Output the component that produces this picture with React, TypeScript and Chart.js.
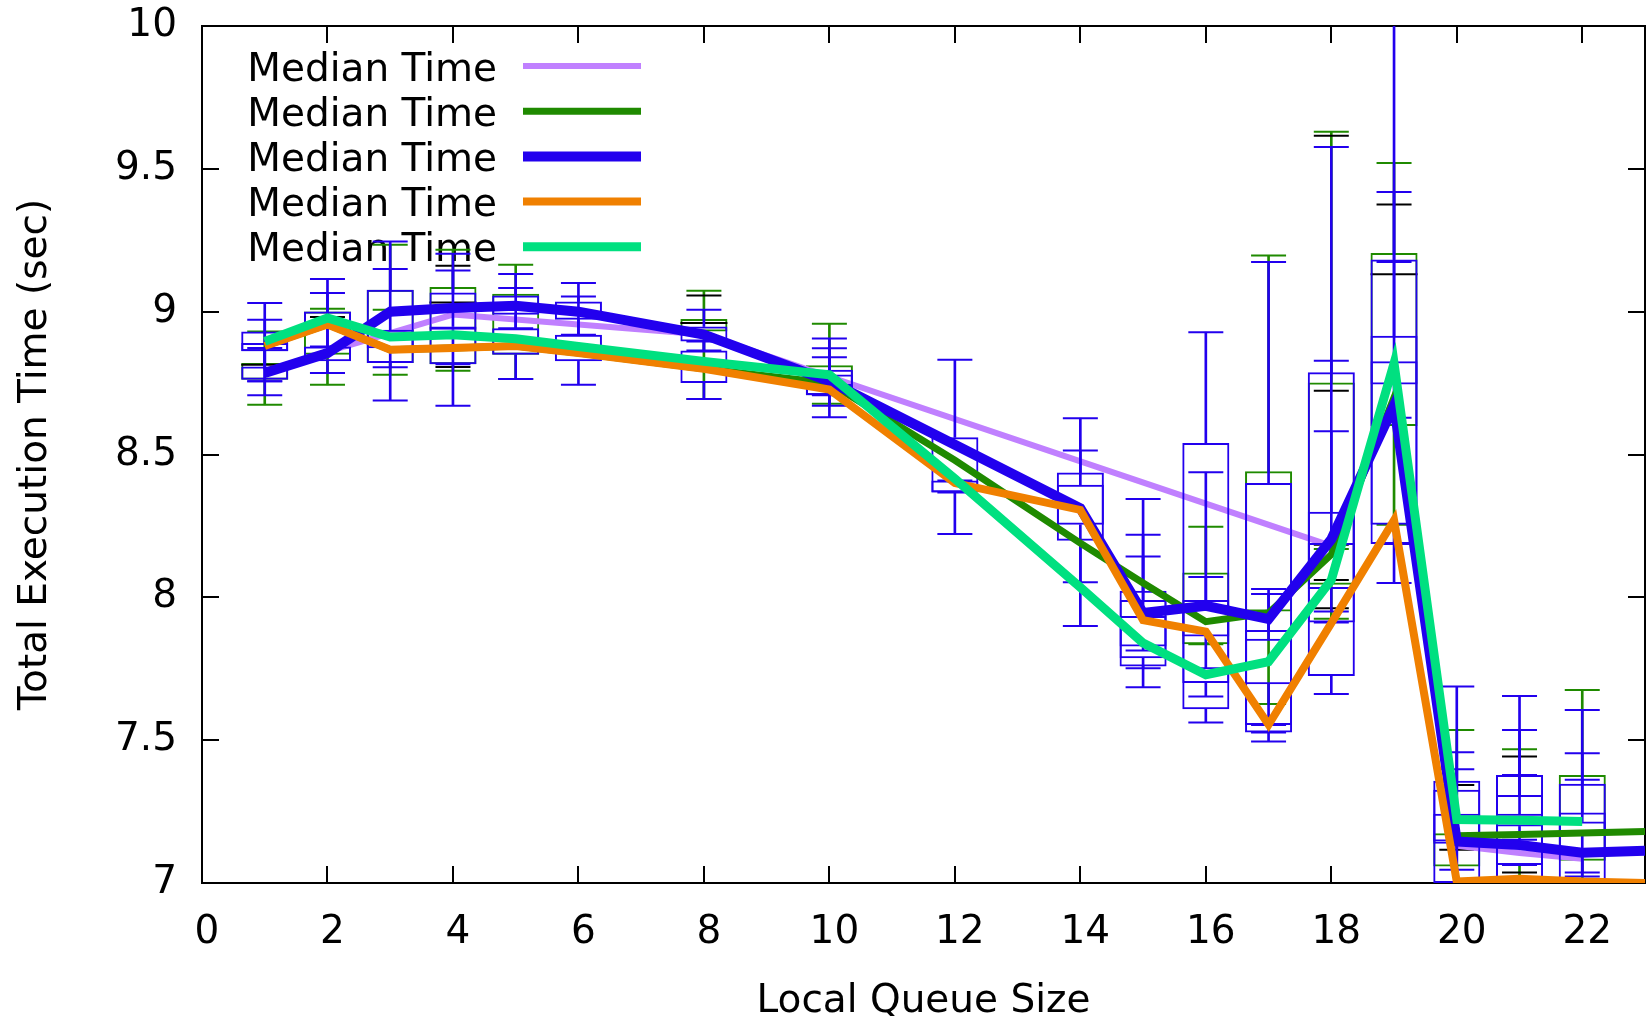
import { useEffect, useRef } from 'react';
import { Chart, registerables } from 'chart.js';

Chart.register(...registerables);

// ---------- axis ticks ----------
const xTickValues = [0, 2, 4, 6, 8, 10, 12, 14, 16, 18, 20, 22];
const yTickValues = [7, 7.5, 8, 8.5, 9, 9.5, 10];

// ---------- median lines ----------
const medianX = [1, 2, 3, 4, 5, 6, 8, 10, 12, 14, 15, 16, 17, 18, 19, 20, 21, 22, 23];
const purpleX = [1, 2, 4, 8, 18, 19, 20, 21, 22];
const purpleY = [8.79, 8.86, 8.99, 8.92, 8.18, 8.68, 7.13, 7.105, 7.085];
const greenY = [8.88, 8.955, 8.867, 8.873, 8.88, 8.855, 8.8, 8.75, 8.48, 8.19, 8.05, 7.915, 7.945, 8.15, 8.7, 7.165, 7.17, 7.175, 7.18];
const blueY = [8.785, 8.855, 9.0, 9.013, 9.021, 9.0, 8.92, 8.756, 8.534, 8.312, 7.945, 7.97, 7.924, 8.203, 8.672, 7.145, 7.133, 7.106, 7.113];
const orangeY = [8.88, 8.955, 8.867, 8.873, 8.88, 8.855, 8.8, 8.727, 8.4, 8.306, 7.92, 7.88, 7.554, 7.91, 8.27, 7.005, 7.015, 7.005, 7.0];
const tealX = [1, 2, 3, 4, 5, 6, 8, 10, 12, 14, 15, 16, 17, 18, 19, 20, 21, 22];
const tealY = [8.896, 8.978, 8.911, 8.919, 8.905, 8.878, 8.826, 8.779, 8.415, 8.035, 7.84, 7.729, 7.775, 8.061, 8.819, 7.222, 7.22, 7.215];

// ---------- candlesticks: [x, min, q1, q3, max] ----------
type Box = [number, number, number, number, number];
const boxesA: Box[] = [
  [1, 8.707, 8.861, 8.931, 9.03],
  [2, 8.878, 8.95, 9.001, 9.114],
  [3, 8.689, 8.82, 9.077, 9.246],
  [4, 8.671, 8.816, 9.067, 9.203],
  [5, 8.942, 8.989, 9.057, 9.132],
  [6, 8.919, 8.972, 9.036, 9.1],
  [8, 8.864, 8.896, 8.948, 9.007],
  [10, 8.63, 8.707, 8.797, 8.906],
  [12, 8.222, 8.367, 8.56, 8.832],
  [14, 7.9, 8.198, 8.437, 8.627],
  [15, 7.685, 7.758, 8.023, 8.344],
  [16, 7.562, 7.608, 8.54, 8.928],
  [17, 7.495, 7.527, 8.4, 9.174],
  [18, 7.662, 7.725, 8.788, 9.576],
  [19, 8.05, 8.187, 9.183, 10.5],
  [20, 6.9, 7.0, 7.358, 7.688],
  [21, 6.9, 7.0, 7.378, 7.655],
  [22, 6.9, 7.0, 7.347, 7.606],
];
const boxesB: Box[] = [
  [1, 8.756, 8.762, 8.808, 8.873],
  [2, 8.785, 8.826, 8.878, 9.065],
  [3, 8.805, 8.872, 8.937, 9.149],
  [4, 8.816, 8.937, 8.948, 9.144],
  [5, 8.764, 8.849, 8.942, 9.083],
  [6, 8.744, 8.826, 8.919, 9.053],
  [8, 8.694, 8.75, 8.864, 8.896],
  [10, 8.671, 8.74, 8.78, 8.872],
  [12, 8.367, 8.367, 8.409, 8.409],
  [14, 8.053, 8.254, 8.394, 8.514],
  [15, 7.752, 7.787, 7.991, 8.219],
  [16, 7.653, 7.7, 7.991, 8.438],
  [17, 7.527, 7.553, 7.886, 8.029],
  [18, 7.912, 7.912, 8.3, 8.828],
  [19, 8.187, 8.254, 8.916, 9.419],
  [20, 7.046, 7.137, 7.326, 7.458],
  [21, 7.063, 7.063, 7.308, 7.536],
  [22, 7.023, 7.107, 7.247, 7.454],
];
const boxesC: Box[] = [
  [1, 8.756, 8.861, 8.89, 8.972],
  [10, 8.707, 8.707, 8.74, 8.84],
  [15, 7.814, 7.828, 7.935, 8.143],
  [16, 7.752, 7.863, 7.974, 8.071],
  [17, 7.553, 7.696, 7.855, 8.012],
  [18, 7.95, 8.029, 8.19, 8.581],
  [19, 8.629, 8.745, 8.826, 9.174],
  [20, 7.0, 7.145, 7.242, 7.398],
  [21, 7.151, 7.198, 7.242, 7.378],
  [22, 7.037, 7.174, 7.215, 7.361],
];
const boxesGreen: Box[] = [
  [1, 8.674, 8.762, 8.82, 8.931],
  [2, 8.744, 8.849, 9.001, 9.01],
  [3, 8.779, 8.82, 9.077, 9.234],
  [4, 8.793, 8.816, 9.086, 9.217],
  [5, 8.764, 8.849, 9.063, 9.164],
  [8, 8.694, 8.931, 8.974, 9.073],
  [10, 8.678, 8.707, 8.812, 8.958],
  [16, 7.836, 7.836, 8.087, 8.247],
  [17, 7.627, 7.95, 8.441, 9.197],
  [18, 7.925, 8.044, 8.752, 9.63],
  [19, 8.254, 8.6, 9.205, 9.52],
  [20, 7.0, 7.058, 7.174, 7.536],
  [21, 7.0, 7.063, 7.308, 7.468],
  [22, 7.0, 7.078, 7.378, 7.676],
];
const greenCaps: [number, number][] = [[3, 9.007], [18, 8.169]];
const blackCaps: [number, number][] = [
  [2, 8.981], [2, 8.785], [4, 9.161], [4, 8.806], [8, 9.057],
  [18, 9.616], [18, 8.723], [18, 8.184], [18, 8.061], [18, 7.962],
  [19, 9.375], [20, 7.343], [20, 7.116], [21, 7.443], [21, 7.037],
];
const blackEdges: [number, number][] = [[1, 8.814], [4, 9.032], [8, 8.96], [19, 9.131]];

// ---------- styles ----------
const C_PURPLE = '#c080ff';
const C_GREEN = '#1f8a00';
const C_BLUE = '#2200ee';
const C_ORANGE = '#f08000';
const C_TEAL = '#00e080';
const C_BLACK = '#000000';
const FONT = "'DejaVu Sans', sans-serif";
const FONT_SIZE = 39;
const TICK = 17;
const CAP_R = 17.5;
const EDGE_R = 23.5;

function boxSets(boxes: Box[], color: string): any[] {
  return [
    {
      type: 'bar',
      data: boxes.map((b) => ({ x: b[0], y: [b[2], b[3]] })),
      backgroundColor: 'rgba(0,0,0,0)',
      borderColor: color,
      borderWidth: 2,
      borderSkipped: false,
      grouped: false,
      barPercentage: 0.75,
      categoryPercentage: 1,
      clip: 0,
    },
    {
      type: 'bar',
      data: boxes.map((b) => ({ x: b[0], y: [b[1], b[2]] })),
      backgroundColor: color,
      borderWidth: 0,
      barThickness: 2,
      grouped: false,
      clip: 0,
    },
    {
      type: 'bar',
      data: boxes.map((b) => ({ x: b[0], y: [b[3], b[4]] })),
      backgroundColor: color,
      borderWidth: 0,
      barThickness: 2,
      grouped: false,
      clip: 0,
    },
    ticksSet(boxes.flatMap((b) => [[b[0], b[1]], [b[0], b[4]]] as [number, number][]), color, CAP_R),
  ];
}

function ticksSet(pts: [number, number][], color: string, r: number): any {
  return {
    type: 'line',
    data: pts.map((p) => ({ x: p[0], y: p[1] })),
    showLine: false,
    pointStyle: 'line',
    pointRadius: r,
    pointHoverRadius: r,
    pointBorderWidth: 2,
    pointBorderColor: color,
    pointBackgroundColor: color,
    clip: 0,
  };
}

function medianSet(xs: number[], ys: number[], color: string, width: number): any {
  return {
    type: 'line',
    label: 'Median Time',
    isMedian: true,
    data: xs.map((x, i) => ({ x, y: ys[i] })),
    borderColor: color,
    backgroundColor: color,
    borderWidth: width,
    pointRadius: 0,
    tension: 0,
    borderJoinStyle: 'miter',
    borderCapStyle: 'butt',
    fill: false,
  };
}

const gnuplotFrame = {
  id: 'gnuplotFrame',
  beforeDatasetsDraw(chart: any) {
    const { ctx, chartArea: a, scales } = chart;
    ctx.save();
    ctx.strokeStyle = '#000';
    ctx.lineWidth = 2;
    ctx.strokeRect(a.left, a.top, a.right - a.left, a.bottom - a.top);
    ctx.beginPath();
    for (const v of xTickValues) {
      const px = Math.round(scales.x.getPixelForValue(v));
      if (px <= a.left + 2 || px >= a.right - 2) continue;
      ctx.moveTo(px, a.bottom);
      ctx.lineTo(px, a.bottom - TICK);
      ctx.moveTo(px, a.top);
      ctx.lineTo(px, a.top + TICK);
    }
    for (const v of yTickValues) {
      const py = Math.round(scales.y.getPixelForValue(v));
      if (py <= a.top + 2 || py >= a.bottom - 2) continue;
      ctx.moveTo(a.left, py);
      ctx.lineTo(a.left + TICK, py);
      ctx.moveTo(a.right, py);
      ctx.lineTo(a.right - TICK, py);
    }
    ctx.stroke();

    // key (legend) in gnuplot style: text then line sample
    const medians = chart.data.datasets.filter((d: any) => d.isMedian);
    ctx.font = `${FONT_SIZE}px ${FONT}`;
    ctx.fillStyle = '#000';
    ctx.textAlign = 'right';
    ctx.textBaseline = 'alphabetic';
    medians.forEach((d: any, i: number) => {
      const rowY = a.top + 40 + i * 45.2;
      ctx.fillText(d.label, a.left + 295, rowY + 14.5);
      ctx.beginPath();
      ctx.strokeStyle = d.borderColor;
      ctx.lineWidth = d.borderWidth;
      ctx.lineCap = 'butt';
      ctx.moveTo(a.left + 321, rowY);
      ctx.lineTo(a.left + 439, rowY);
      ctx.stroke();
    });
    ctx.restore();
  },
};

export default function App() {
  const ref = useRef<HTMLCanvasElement | null>(null);

  useEffect(() => {
    if (!ref.current) return;
    Chart.defaults.font.family = FONT;
    Chart.defaults.color = '#000';

    const ordered: any[] = [
      ...boxSets(boxesGreen, C_GREEN),
      ticksSet(greenCaps, C_GREEN, CAP_R),
      ticksSet(blackCaps, C_BLACK, CAP_R),
      ticksSet(blackEdges, C_BLACK, EDGE_R),
      medianSet(purpleX, purpleY, C_PURPLE, 6),
      ...boxSets(boxesA, C_BLUE),
      ...boxSets(boxesB, C_BLUE),
      ...boxSets(boxesC, C_BLUE),
      medianSet(medianX, greenY, C_GREEN, 7),
      medianSet(medianX, blueY, C_BLUE, 10),
      medianSet(medianX, orangeY, C_ORANGE, 8),
      medianSet(tealX, tealY, C_TEAL, 9),
    ];
    const n = ordered.length;
    ordered.forEach((d, i) => (d.order = n - i));
    const medianOrder = ordered.filter((d) => d.isMedian);
    const rest = ordered.filter((d) => !d.isMedian);
    const datasets = [...medianOrder, ...rest];

    const chart = new Chart(ref.current, {
      type: 'line',
      data: { datasets },
      options: {
        responsive: false,
        animation: false,
        devicePixelRatio: 1,
        events: [],
        layout: { autoPadding: false, padding: { top: 26, right: 3, bottom: 0, left: 0 } },
        plugins: { legend: { display: false }, tooltip: { enabled: false } },
        scales: {
          x: {
            type: 'linear',
            min: 0,
            max: 23,
            offset: false,
            afterBuildTicks: (s: any) => {
              s.ticks = xTickValues.map((v) => ({ value: v }));
            },
            afterFit: (s: any) => {
              s.height = 133;
              s.paddingLeft = 0;
              s.paddingRight = 0;
              s.paddingTop = 0;
              s.paddingBottom = 0;
            },
            grid: { display: false, drawTicks: false },
            border: { display: false },
            ticks: {
              padding: 26,
              labelOffset: 5,
              maxRotation: 0,
              autoSkip: false,
              font: { size: FONT_SIZE, family: FONT },
              callback: (v: any) => String(v),
            },
            title: {
              display: true,
              text: 'Local Queue Size',
              font: { size: FONT_SIZE, family: FONT, lineHeight: 0.75 },
              padding: { top: 0, bottom: 0 },
            },
          },
          y: {
            type: 'linear',
            min: 7,
            max: 10,
            afterBuildTicks: (s: any) => {
              s.ticks = yTickValues.map((v) => ({ value: v }));
            },
            afterFit: (s: any) => {
              s.width = 202;
              s.paddingLeft = 0;
              s.paddingRight = 0;
              s.paddingTop = 0;
              s.paddingBottom = 0;
            },
            grid: { display: false, drawTicks: false },
            border: { display: false },
            ticks: {
              padding: 25,
              autoSkip: false,
              font: { size: FONT_SIZE, family: FONT },
              callback: (v: any) => String(v),
            },
            title: {
              display: true,
              text: 'Total Execution Time (sec)',
              font: { size: FONT_SIZE, family: FONT, lineHeight: 1.0 },
              padding: { top: 16, bottom: 0 },
            },
          },
        },
      } as any,
      plugins: [gnuplotFrame],
    } as any);

    return () => chart.destroy();
  }, []);

  return (
    <div style={{ position: 'fixed', left: 0, top: 0, width: 1648, height: 1016, background: '#fff' }}>
      <canvas ref={ref} width={1648} height={1016} style={{ display: 'block' }} />
    </div>
  );
}
